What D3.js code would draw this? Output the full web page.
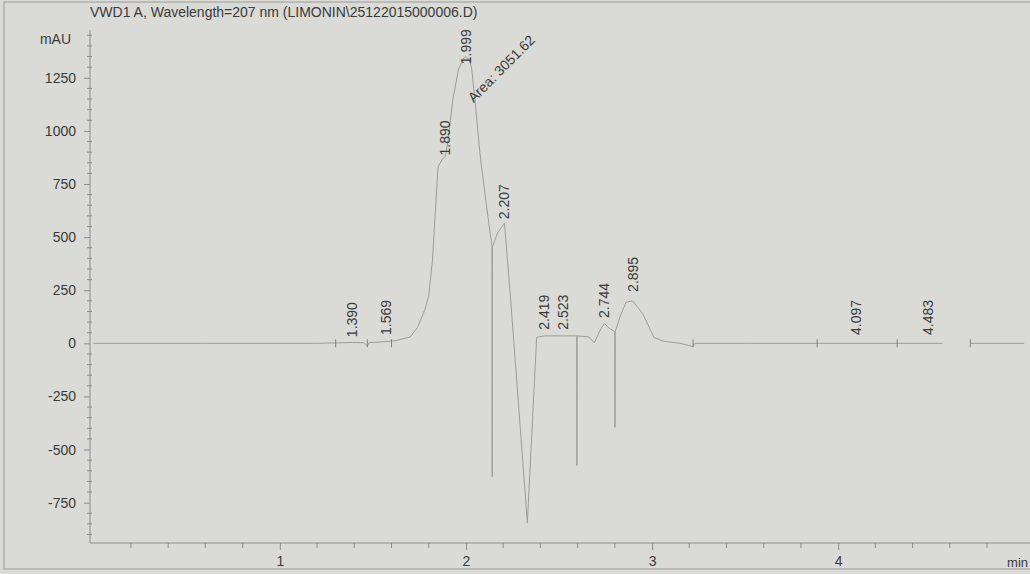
<!DOCTYPE html>
<html>
<head>
<meta charset="utf-8">
<script src="https://cdn.jsdelivr.net/npm/d3@7"></script>
<style>
  body { margin: 0; background: #dadad6; }
  svg { display: block; font-family: "Liberation Sans", Arial, sans-serif; }
</style>
</head>
<body>
<svg width="1030" height="574"></svg>
<script>
// chromatogram trace, time (min) and signal (mAU); null = pen break
const traceTime = [0.00, 0.60, 1.20, 1.30, 1.39, 1.45, 1.47, 1.48, 1.569, 1.62, 1.70, 1.74, 1.78, 1.80, 1.82,
  1.85, 1.875, 1.890, 1.905, 1.93, 1.96, 1.985, 1.999, 2.015, 2.03, 2.05, 2.075, 2.11, 2.14, 2.141, 2.142, 2.17, 2.207,
  2.24, 2.33, 2.38, 2.419, 2.523, 2.595, 2.596, 2.597, 2.66, 2.69, 2.72, 2.744, 2.77, 2.80, 2.801, 2.802,
  2.83, 2.86, 2.895, 2.95, 3.01, 3.06, 3.15, 3.22, 3.23, 3.50, 3.90, 4.30, 4.56, 4.57, 4.71, 5.00];
const traceSignal = [0, 0, 0, 2, 4, 3, -12, 3, 8, 12, 30, 75, 160, 226, 390,
  830, 870, 880, 960, 1150, 1290, 1340, 1348, 1340, 1300, 1130, 896, 650, 453, -630, 453, 520, 566,
  208, -845, 28, 35, 35, 35, -575, 35, 30, 2, 60, 94, 70, 55, -396, 55,
  130, 193, 200, 140, 28, 10, 0, -15, 0, 0, 0, 0, 0, null, 0, 0];

// integration markers
const markerTimes = [1.30, 1.47, 1.60, 3.22, 3.887, 4.317, 4.71];

// peak labels
const peakTimes = [1.390, 1.569, 1.890, 1.999, 2.207, 2.419, 2.523, 2.744, 2.895, 4.097, 4.483];
const labelHeights = [15, 25, 870, 1300, 570, 50, 50, 105, 228, 25, 25];

const yTicks = [-750, -500, -250, 0, 250, 500, 750, 1000, 1250];
const xTicks = [1, 2, 3, 4];

const title = 'VWD1 A, Wavelength=207 nm (LIMONIN\\25122015000006.D)';
const areaText = 'Area: 3051.62';
const areaTime = 2.02;
const areaLevel = 1130;

const svg = d3.select('svg');
const ink = '#3a3a3a';
const grey = '#8c8c8c';
const pen = '#9c9c9c';

// paper frame
svg.append('rect')
  .attr('x', 4).attr('y', 2)
  .attr('width', 1040).attr('height', 567)
  .attr('fill', 'none')
  .attr('stroke', '#9a9a96');

const xScale = d3.scaleLinear()
  .domain([-0.02, 5.02])
  .range([90, 1028]);

const yScale = d3.scaleLinear()
  .domain([-940, 1475])
  .range([543, 30]);

// y axis
const yAxis = svg.append('g')
  .attr('transform', `translate(90, 0)`)
  .call(d3.axisLeft(yScale).tickValues(yTicks).tickSize(6).tickPadding(8).tickFormat(d => String(d)));
yAxis.select('.domain').remove();
yAxis.selectAll('line').attr('stroke', grey);
yAxis.selectAll('text').attr('fill', ink).style('font-size', '14px');

svg.append('g')
  .selectAll('line')
  .data(d3.range(-900, 1476, 50).filter(v => v % 250 !== 0))
  .join('line')
  .attr('x1', 87).attr('x2', 92)
  .attr('y1', d => yScale(d)).attr('y2', d => yScale(d))
  .attr('stroke', grey);

svg.append('line')
  .attr('x1', 90).attr('x2', 90)
  .attr('y1', 30).attr('y2', 543)
  .attr('stroke', grey);

svg.append('text')
  .attr('x', 71).attr('y', 44)
  .attr('text-anchor', 'end')
  .attr('fill', ink)
  .style('font-size', '14px')
  .text('mAU');

// x axis
const xAxis = svg.append('g')
  .attr('transform', `translate(0, 543)`)
  .call(d3.axisBottom(xScale).tickValues(xTicks).tickSize(7).tickPadding(6).tickFormat(d => String(d)));
xAxis.select('.domain').remove();
xAxis.selectAll('line').attr('stroke', grey);
xAxis.selectAll('text').attr('fill', ink).style('font-size', '14px');

svg.append('g')
  .selectAll('line')
  .data(d3.range(0.2, 5.01, 0.2).filter(t => Math.abs(t - Math.round(t)) > 0.01))
  .join('line')
  .attr('x1', d => xScale(d)).attr('x2', d => xScale(d))
  .attr('y1', 543).attr('y2', 548)
  .attr('stroke', grey);

svg.append('line')
  .attr('x1', 90).attr('x2', 1030)
  .attr('y1', 543).attr('y2', 543)
  .attr('stroke', grey);

svg.append('text')
  .attr('x', 1028).attr('y', 567)
  .attr('text-anchor', 'end')
  .attr('fill', ink)
  .style('font-size', '13px')
  .text('min');

// title
svg.append('text')
  .attr('x', 90).attr('y', 17)
  .attr('fill', ink)
  .style('font-size', '14px')
  .text(title);

// trace
const points = traceTime.map((t, i) => ({ t: t, v: traceSignal[i] }));
const line = d3.line()
  .defined(d => d.v !== null)
  .x(d => xScale(d.t))
  .y(d => yScale(d.v));

svg.append('path')
  .datum(points)
  .attr('d', line)
  .attr('fill', 'none')
  .attr('stroke', pen)
  .attr('stroke-width', 1);

svg.append('g')
  .selectAll('line')
  .data(markerTimes)
  .join('line')
  .attr('x1', d => xScale(d)).attr('x2', d => xScale(d))
  .attr('y1', yScale(0) - 4).attr('y2', yScale(0) + 4)
  .attr('stroke', '#808080');

// peak labels
svg.append('g')
  .selectAll('text')
  .data(peakTimes)
  .join('text')
  .attr('transform', (d, i) => `translate(${xScale(d) + 5}, ${yScale(labelHeights[i]) - 3}) rotate(-90)`)
  .attr('fill', ink)
  .style('font-size', '14px')
  .text(d => d.toFixed(3));

svg.append('text')
  .attr('transform', `translate(${xScale(areaTime) + 4}, ${yScale(areaLevel)}) rotate(-45)`)
  .attr('fill', ink)
  .style('font-size', '14px')
  .text(areaText);
</script>
</body>
</html>
